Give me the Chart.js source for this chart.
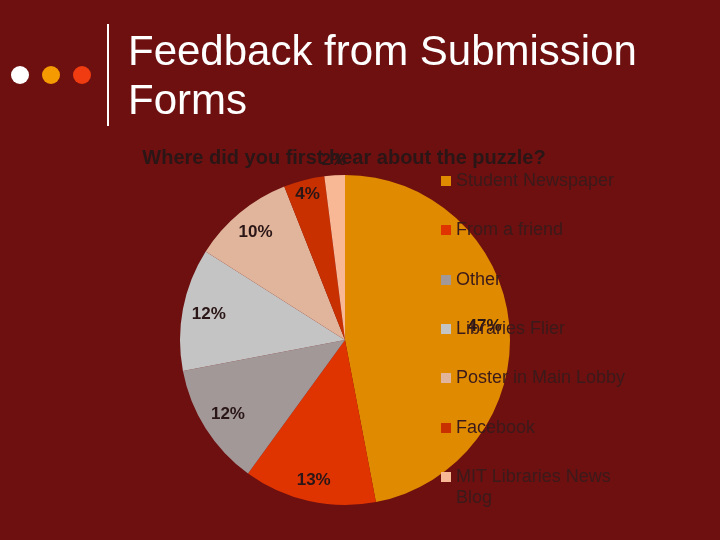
<!DOCTYPE html>
<html>
<head>
<meta charset="utf-8">
<script src="https://cdn.jsdelivr.net/npm/chart.js@4"></script>
<style>
  body { margin: 0; background: #6e1010; font-family: "Liberation Sans", Arial, sans-serif; }
  #slide { position: relative; width: 720px; height: 540px; overflow: hidden; background: #6e1010; }
  #myChart { position: absolute; left: 0; top: 0; }
  .dot { position: absolute; top: 66px; width: 18px; height: 18px; border-radius: 50%; }
  #bar { position: absolute; left: 107px; top: 24px; width: 2px; height: 102px; background: #fff; }
  #title { position: absolute; left: 128px; top: 26px; color: #fff; font-size: 42px; line-height: 49px; }
  #ctitle { position: absolute; left: 0; width: 688px; top: 146px; text-align: center; color: #2a1616; font-size: 20px; font-weight: bold; }
  #legend { position: absolute; left: 441px; top: 170px; }
  .item { position: absolute; left: 0; width: 220px; color: #3a1a1a; font-size: 18px; line-height: 21px; }
  .box { position: absolute; left: 0; top: 6px; width: 10px; height: 10px; }
  .txt { margin-left: 15px; }
</style>
</head>
<body>
<div id="slide">
  <canvas id="myChart" width="720" height="540"></canvas>
  <div class="dot" style="left:11px;background:#fff"></div>
  <div class="dot" style="left:42px;background:#f59a00"></div>
  <div class="dot" style="left:73px;background:#f03c10"></div>
  <div id="bar"></div>
  <div id="title">Feedback from Submission<br>Forms</div>
  <div id="ctitle">Where did you first hear about the puzzle?</div>
  <div id="legend"></div>
</div>
<script>
var categories = ['Student Newspaper', 'From a friend', 'Other', 'Libraries Flier',
  'Poster in Main Lobby', 'Facebook', 'MIT Libraries News Blog'];
var percents = [47, 13, 12, 12, 10, 4, 2];
var colors = ['#e08a00', '#e03400', '#a39898', '#c4c4c4', '#e0b59b', '#c83000', '#f8b896'];
// how far out each label sits (fraction of radius), small slices pushed out
var labelRadius = [0.85, 0.87, 0.84, 0.84, 0.85, 0.91, 1.09];

// legend (html, so the last one can wrap)
var legend = document.getElementById('legend');
categories.forEach(function(c, i) {
  var d = document.createElement('div');
  d.className = 'item';
  d.style.top = (i * 49.3) + 'px';
  d.innerHTML = '<div class="box" style="background:' + colors[i] + '"></div><div class="txt">' +
    (i == 6 ? 'MIT Libraries News<br>Blog' : c) + '</div>';
  legend.appendChild(d);
});

var pctLabels = {
  id: 'pctLabels',
  afterDatasetsDraw: function(chart) {
    var ctx = chart.ctx;
    var arcs = chart.getDatasetMeta(0).data;
    ctx.save();
    ctx.font = 'bold 17px "Liberation Sans", Arial, sans-serif';
    ctx.fillStyle = '#2a1616';
    ctx.textAlign = 'center';
    ctx.textBaseline = 'middle';
    arcs.forEach(function(a, i) {
      var mid = (a.startAngle + a.endAngle) / 2;
      var r = a.outerRadius * labelRadius[i];
      ctx.fillText(percents[i] + '%', a.x + Math.cos(mid) * r, a.y + Math.sin(mid) * r);
    });
    ctx.restore();
  }
};

document.addEventListener('DOMContentLoaded', function() {
  var myChart = new Chart(document.getElementById('myChart'), {
    type: 'pie',
    data: {
      labels: categories,
      datasets: [{ data: percents, backgroundColor: colors, borderWidth: 0 }]
    },
    options: {
      responsive: false,
      animation: false,
      layout: { padding: { left: 180, right: 210, top: 175, bottom: 35 } },
      plugins: { legend: { display: false }, title: { display: false }, tooltip: { enabled: false } }
    },
    plugins: [pctLabels]
  });
});
</script>
</body>
</html>
